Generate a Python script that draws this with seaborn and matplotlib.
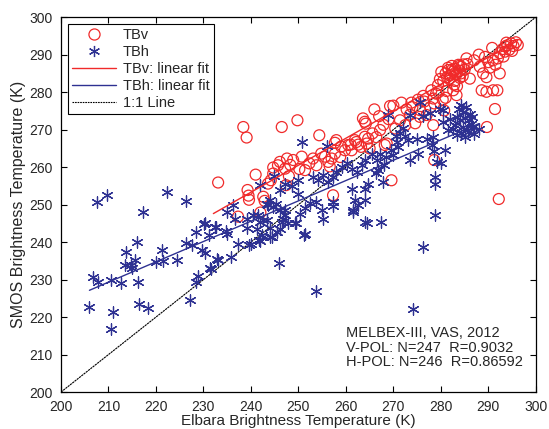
import matplotlib
matplotlib.use("Agg")
import matplotlib.pyplot as plt
from matplotlib.lines import Line2D
import numpy as np
import pandas as pd
import seaborn as sns

# --- dados (Elbara x SMOS, K) ---
tbv_x = [233.1, 237.3, 238.4, 239.1, 239.3, 239.5, 239.6, 241.0, 242.0, 242.6, 242.9, 243.6, 244.2, 244.7,
         244.7, 245.7, 246.1, 246.5, 247.2, 247.4, 247.6, 248.0, 248.3, 248.9, 249.8, 250.2, 250.7, 251.4,
         252.3, 253.1, 253.8, 254.4, 254.8, 255.6, 256.3, 256.6, 257.0, 257.3, 257.7, 257.7, 258.0, 258.8,
         259.8, 260.5, 261.2, 261.9, 262.2, 262.6, 263.2, 263.6, 264.0, 264.0, 264.2, 264.4, 264.7, 265.0,
         266.0, 266.4, 267.0, 267.2, 267.9, 268.2, 268.6, 269.3, 269.6, 270.0, 270.4, 271.4, 271.7, 272.5,
         272.8, 273.5, 273.8, 274.6, 275.2, 275.6, 275.6, 276.3, 277.0, 277.8, 278.0, 278.4, 278.4, 278.6,
         278.6, 279.0, 279.4, 279.8, 280.1, 280.4, 280.5, 280.7, 281.0, 281.0, 281.2, 281.5, 281.8, 282.0,
         282.3, 282.6, 282.6, 282.9, 283.0, 283.3, 283.3, 283.4, 283.7, 284.0, 284.0, 284.3, 284.6, 285.0,
         285.4, 286.1, 287.0, 288.0, 288.2, 288.6, 288.9, 289.3, 289.6, 289.6, 289.7, 290.0, 290.3, 291.0,
         291.0, 291.4, 291.5, 291.9, 292.0, 292.2, 292.4, 292.4, 293.0, 293.2, 293.5, 293.8, 294.0, 294.4,
         294.8, 295.0, 295.3, 295.8, 296.2,
         281.6, 282.4, 283.1, 283.9, 284.8, 281.3, 282.8, 284.2, 285.6, 259.0, 261.0, 265.6, 269.0, 274.0,
         276.5, 279.5, 290.8, 293.6]
tbv_y = [255.9, 246.8, 270.7, 267.9, 253.9, 252.4, 251.3, 258.0, 247.9, 252.1, 251.0, 255.6, 256.5, 258.3,
         259.9, 260.5, 261.4, 270.7, 259.6, 255.2, 262.3, 257.6, 260.6, 261.9, 272.5, 259.5, 262.8, 259.2,
         261.0, 262.3, 260.5, 268.5, 263.6, 262.8, 261.4, 260.2, 262.3, 252.5, 263.6, 266.5, 267.2, 262.7,
         264.5, 265.9, 264.5, 267.2, 266.7, 266.0, 265.4, 273.0, 268.1, 272.1, 271.6, 266.3, 267.6, 265.0,
         275.4, 268.0, 273.6, 269.9, 271.3, 265.9, 266.3, 276.3, 256.5, 276.4, 270.3, 272.5, 277.2, 271.2,
         275.4, 274.0, 277.2, 271.7, 278.0, 275.2, 273.4, 279.0, 273.9, 276.0, 280.5, 278.3, 271.2, 277.0,
         261.9, 279.6, 281.9, 283.5, 285.4, 278.0, 283.0, 275.1, 278.5, 285.0, 280.3, 286.5, 283.5, 284.5,
         287.0, 285.5, 280.5, 283.0, 286.2, 284.8, 279.2, 281.6, 287.3, 285.7, 283.8, 286.8, 284.3, 286.0,
         289.0, 283.6, 288.5, 290.0, 286.8, 280.5, 285.0, 289.4, 284.0, 280.1, 270.7, 288.0, 286.5, 288.5,
         280.5, 275.5, 287.3, 280.5, 289.0, 251.5, 285.0, 290.4, 291.5, 289.5, 290.8, 293.2, 292.5, 291.3,
         293.0, 291.0, 292.3, 293.3, 292.6,
         285.9, 286.0, 285.2, 287.0, 287.4, 284.0, 282.0, 285.0, 287.5, 265.5, 266.0, 269.0, 272.8, 276.0,
         277.5, 280.0, 291.8, 292.2]

tbh_x = [206.0, 206.8, 207.5, 207.7, 209.6, 210.5, 210.6, 211.0, 212.6, 213.5, 213.6, 214.7, 214.9, 215.6,
         216.1, 216.3, 216.5, 217.2, 218.3, 220.0, 221.3, 221.5, 222.4, 224.4, 226.3, 226.3, 227.2, 227.7,
         228.4, 228.8, 228.4, 229.7, 230.1, 230.3, 230.3, 231.2, 231.4, 231.5, 232.4, 232.6, 232.8, 233.0,
         234.7, 234.9, 235.0, 235.9, 236.3, 236.6, 237.3, 239.1, 239.1, 239.7, 240.0, 240.5, 241.2, 241.5,
         241.8, 241.9, 242.0, 242.0, 242.3, 242.6, 243.3, 243.3, 243.6, 244.0, 244.0, 244.0, 244.5, 244.7,
         244.8, 245.3, 245.4, 246.0, 246.1, 246.1, 246.1, 246.5, 246.8, 247.2, 247.2, 247.2, 247.9, 248.6,
         249.3, 249.6, 250.0, 250.0, 250.3, 250.7, 251.2, 251.4, 251.4, 252.5, 253.1, 253.8, 253.8, 254.2,
         254.9, 255.2, 255.2, 256.1, 256.3, 257.3, 257.3, 257.3, 258.0, 259.1, 260.2, 261.2, 261.2, 261.5,
         261.6, 261.9, 262.3, 262.6, 263.3, 264.0, 264.0, 264.0, 264.0, 264.4, 264.7, 265.4, 266.3, 266.7,
         267.2, 267.5, 267.9, 268.5, 268.9, 269.5, 270.0, 270.5, 271.0, 271.5, 272.0, 273.1, 273.5, 273.5,
         274.2, 275.0, 275.2, 275.6, 276.3, 276.3, 277.0, 277.7, 278.1, 278.4, 278.6, 278.7, 278.8, 278.8,
         279.1, 279.8, 280.1, 280.5, 280.5, 280.8, 281.5, 282.6, 283.0, 283.5, 283.5, 284.0, 284.2, 284.7,
         284.7, 285.1, 285.3, 285.8, 286.0, 286.3, 286.5, 286.8, 287.0, 288.0,
         282.0, 283.8, 285.0, 286.2, 284.3, 270.8, 272.5, 266.5, 268.0]
tbh_y = [222.8, 230.8, 250.6, 229.3, 252.5, 230.0, 216.9, 221.3, 229.2, 233.9, 237.3, 233.8, 233.0, 235.2,
         240.1, 229.3, 223.6, 248.1, 222.5, 234.8, 237.9, 234.9, 253.4, 235.3, 251.1, 239.8, 224.5, 239.2,
         229.4, 231.0, 242.7, 237.9, 244.8, 237.0, 245.0, 242.0, 233.0, 232.7, 244.1, 244.1, 235.6, 235.2,
         242.9, 248.1, 242.3, 236.1, 249.9, 246.3, 239.6, 243.9, 246.3, 239.2, 239.5, 247.2, 243.4, 247.2,
         240.6, 245.4, 255.2, 240.4, 241.9, 246.0, 246.0, 250.3, 249.9, 251.2, 243.8, 241.4, 241.4, 249.4,
         257.7, 250.3, 242.7, 234.3, 253.9, 248.5, 243.6, 245.4, 246.3, 255.6, 247.2, 248.5, 245.0, 254.9,
         245.0, 245.0, 252.9, 256.5, 247.6, 266.7, 242.0, 242.3, 249.0, 250.5, 257.4, 250.8, 226.9, 256.5,
         248.5, 257.9, 246.3, 265.6, 256.1, 257.4, 250.8, 249.6, 258.7, 260.1, 261.0, 259.6, 254.3, 248.1,
         248.5, 251.2, 258.7, 249.9, 260.5, 261.9, 254.3, 251.2, 245.4, 245.2, 255.6, 263.6, 258.5, 259.2,
         263.6, 245.4, 256.1, 262.8, 273.9, 264.5, 263.2, 268.2, 265.5, 269.0, 270.5, 267.3, 273.9, 261.9,
         222.1, 267.5, 263.6, 277.4, 273.7, 238.6, 267.5, 274.4, 266.0, 268.1, 264.3, 247.2, 257.4, 255.6,
         261.4, 275.6, 261.0, 275.2, 272.1, 264.5, 269.9, 270.3, 271.2, 268.5, 273.5, 272.5, 269.0, 270.7,
         274.7, 268.1, 276.0, 269.5, 272.5, 271.6, 273.4, 270.7, 268.8, 270.3,
         272.8, 275.5, 273.0, 274.2, 276.6, 266.8, 268.4, 262.0, 260.6]

fit_v = [0.72, 80.5]
fit_h = [0.542, 115.5]

info_lines = ["MELBEX-III, VAS, 2012",
              "V-POL: N=247  R=0.9032",
              "H-POL: N=246  R=0.86592"]

RED = "#f02a2a"
BLUE = "#2e3192"

sns.set_style("white", {"xtick.direction": "in", "ytick.direction": "in",
                        "xtick.top": True, "ytick.right": True,
                        "xtick.bottom": True, "ytick.left": True,
                        "axes.edgecolor": "black"})
plt.rcParams["font.family"] = ["Liberation Sans", "DejaVu Sans"]

df_v = pd.DataFrame({"x": tbv_x, "y": tbv_y})
df_h = pd.DataFrame({"x": tbh_x, "y": tbh_y})

fig = plt.figure(figsize=(5.49, 4.29), dpi=100)
ax = fig.add_axes([0.111, 0.086, 0.865, 0.874])

# linha 1:1
one = np.array([200, 300])
ax.plot(one, one, color="black", lw=0.8, ls=(0, (2, 0.6)), zorder=1)

sns.scatterplot(data=df_v, x="x", y="y", ax=ax, marker="o", s=62,
                color=RED, facecolors="none", edgecolor=RED, linewidth=0.9, zorder=3)
sns.scatterplot(data=df_h, x="x", y="y", ax=ax, marker=(6, 2, 0), s=66,
                color=BLUE, linewidth=0.9, zorder=3)

xv = np.array([min(tbv_x) - 1.0, max(tbv_x)])
xh = np.array([min(tbh_x), max(tbh_x)])
ax.plot(xv, fit_v[0] * xv + fit_v[1], color=RED, lw=1.0, zorder=4)
ax.plot(xh, fit_h[0] * xh + fit_h[1], color=BLUE, lw=1.0, zorder=4)

ax.set_xlim(200, 300)
ax.set_ylim(200, 300)
ax.set_xticks(range(200, 301, 10))
ax.set_yticks(range(200, 301, 10))
ax.tick_params(labelsize=10, length=4, width=0.8, color="black", pad=6)
for sp in ax.spines.values():
    sp.set_linewidth(0.9)
ax.set_xlabel("Elbara Brightness Temperature (K)", fontsize=11, labelpad=0)
ax.set_ylabel("SMOS Brightness Temperature (K)", fontsize=11.5, labelpad=2)

ax.text(260.0, 217.6, "\n".join(info_lines), fontsize=10.5, va="top", ha="left",
        linespacing=1.05)

handles = [
    Line2D([], [], ls="none", marker="o", mfc="none", mec=RED, ms=8, mew=0.9),
    Line2D([], [], ls="none", marker=(6, 2, 0), color=BLUE, mec=BLUE, ms=8, mew=0.9),
    Line2D([], [], color=RED, lw=1.0),
    Line2D([], [], color=BLUE, lw=1.0),
    Line2D([], [], color="black", lw=0.8, ls=(0, (1.5, 0.8))),
]
labels = ["TBv", "TBh", "TBv: linear fit", "TBh: linear fit", "1:1 Line"]
leg = ax.legend(handles, labels, loc="upper left", fontsize=10.5, frameon=True,
                fancybox=False, edgecolor="black", framealpha=1,
                handlelength=3.0, labelspacing=0.2, borderaxespad=0.45,
                borderpad=0.3, handletextpad=0.5)
leg.get_frame().set_linewidth(0.8)

fig.savefig("out.png", dpi=100)
